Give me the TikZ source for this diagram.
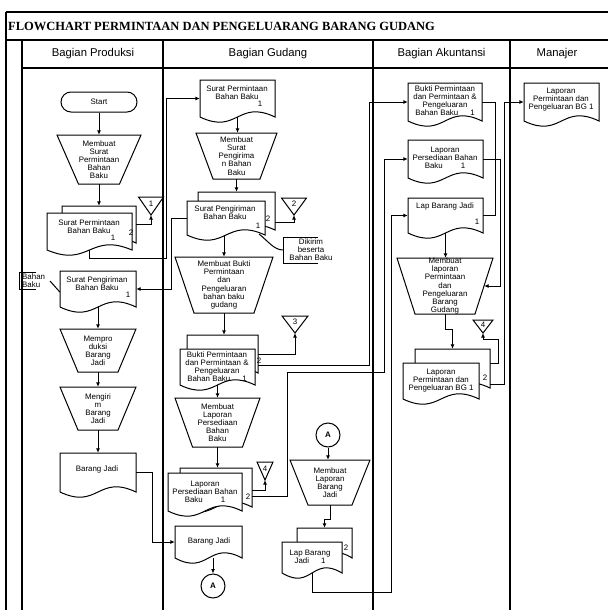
\documentclass[tikz,border=0pt]{standalone}
\usepackage{fontspec}
\setmainfont{Liberation Sans}
\newfontfamily\titlefont{Liberation Serif}
\usetikzlibrary{arrows.meta,fit,calc}

\tikzset{
 shp/.style={draw=black, fill=white, line width=1pt},
 txt/.style={font=\fontsize{7.9}{8.1}\selectfont, align=center, inner sep=0pt},
 box/.style={inner sep=0pt, draw=none},
 arr/.style={line width=1pt, -{Latex[length=4.5pt,width=4pt]}},
 ln/.style={line width=1pt},
 frm/.style={line width=1.3pt},
 hdr/.style={font=\fontsize{11.3}{12}\selectfont, inner sep=0pt},
 conn/.style={circle, draw, fill=white, line width=1pt, minimum size=24pt, inner sep=0pt, font=\fontsize{8}{9}\selectfont\bfseries},
}

% document symbol: name, x0, y0, x1, y1 (y1 = level of wave ends)
\newcommand\docshape[5]{%
  \draw[shp] (#2,#3) -- (#4,#3) -- (#4,#5) .. controls ({(#2+#4)/2},{#5-18}) and ({(#2+#4)/2},{#5+18}) .. (#2,#5) -- cycle;
  \coordinate (#1-nw) at (#2,#3);
  \coordinate (#1-se) at (#4,#5);
  \node[box, fit=(#1-nw)(#1-se)] (#1) {};}

% manual operation: name, cx, ytop, ybot, halftop, halfbot, text
\newcommand\manop[7]{%
  \draw[shp] ({#2-#5},#3) -- ({#2+#5},#3) -- ({#2+#6},#4) -- ({#2-#6},#4) -- cycle;
  \coordinate (#1-nw) at ({#2-#5},#3);
  \coordinate (#1-se) at ({#2+#5},#4);
  \node[box, fit=(#1-nw)(#1-se)] (#1) {};
  \node[txt] (#1-t) at (#1.center) {#7};}

% offline file: name, cx, ytop, w, h, number
\newcommand\offline[6]{%
  \draw[shp] ({#2-#4/2},#3) -- ({#2+#4/2},#3) -- (#2,{#3+#5}) -- cycle;
  \coordinate (#1-apex) at (#2,{#3+#5});
  \node[txt] (#1) at (#2,{#3+#5*0.36}) {#6};}

\begin{document}
\begin{tikzpicture}[x=1pt,y=-1pt]
\useasboundingbox (0,0) rectangle (608,610);

% ---------- frame ----------
\draw[frm] (6,12) -- (608,12);
\draw[frm] (6,40) -- (608,40);
\draw[frm] (22,68) -- (608,68);
\draw[frm] (6,12) -- (6,610);
\foreach \x in {22,163,373,510} \draw[frm] (\x,40) -- (\x,610);

\node[anchor=west, inner sep=0pt] (title) at (8,26)
  {\titlefont\bfseries\fontsize{12.5}{14}\selectfont FLOWCHART PERMINTAAN DAN PENGELUARANG BARANG GUDANG};
\node[hdr] (h1) at (93,54) {Bagian Produksi};
\node[hdr] (h2) at (268,54) {Bagian Gudang};
\node[hdr] (h3) at (441.5,54) {Bagian Akuntansi};
\node[hdr] (h4) at (557,54) {Manajer};

% ---------- Bagian Produksi ----------
\node[shp, rounded corners=10pt, minimum width=76pt, minimum height=20pt, txt] (start) at (99,102) {Start};
\manop{m1}{99}{135}{184}{42}{20.5}{Membuat\\Surat\\Permintaan\\Bahan\\Baku}
\docshape{spbB}{62}{206}{136}{243}
\docshape{spb}{47}{213}{132}{250}
\node[txt] (spbt) at (89,227) {Surat Permintaan\\Bahan Baku};
\node[txt] (spbn1) at (113,238) {1};
\node[txt] (spbn2) at (131,233) {2};
\offline{t1}{151}{197}{25}{18}{1}

\docshape{spp}{60}{271}{136}{307}
\node[txt] (sppt) at (97,284) {Surat Pengiriman\\Bahan Baku};
\node[txt] (sppn1) at (128,295) {1};
\draw[ln] (36,272) -- (19,272) -- (19,289) -- (36,289);
\node[txt, align=left, anchor=west] (bbt) at (22,280.5) {Bahan\\Baku};
\coordinate (bbl) at (50,281);

\manop{m2}{98}{329}{372}{38}{20}{Mempro\\duksi\\Barang\\Jadi}
\manop{m3}{98}{387}{430}{38}{20}{Mengiri\\m\\Barang\\Jadi}
\docshape{bj}{60}{453}{136}{492}
\node[txt] (bjt) at (97,469) {Barang Jadi};

% ---------- Bagian Gudang ----------
\docshape{spr}{200}{80}{275}{117}
\node[txt] (sprt) at (237,92.5) {Surat Permintaan\\Bahan Baku};
\node[txt] (sprn1) at (260,104) {1};
\manop{m4}{236.5}{133}{179}{40.5}{23.5}{Membuat\\Surat\\Pengirima\\n Bahan\\Baku}
\docshape{spgB}{198}{192}{275}{230}
\docshape{spg}{187}{201}{265}{235}
\node[txt] (spgt) at (225,213) {Surat Pengiriman\\Bahan Baku};
\node[txt] (spgn1) at (258,226) {1};
\node[txt] (spgn2) at (268,219) {2};
\offline{t2}{294}{198}{25}{17}{2}
\draw[ln] (318,237) -- (283,237) -- (283,263) -- (318,263);
\node[txt] (dik) at (311,250) {Dikirim\\beserta\\Bahan Baku};
\coordinate (dk1) at (259,234);
\coordinate (dkw) at (283,250);

\manop{m5}{224}{257}{313}{49}{30}{Membuat Bukti\\Permintaan\\dan\\Pengeluaran\\bahan baku\\gudang}
\docshape{bkB}{187}{335}{258}{373}
\docshape{bk}{180}{349}{255}{385}
\node[txt] (bkt) at (217,367) {Bukti Permintaan\\dan Permintaan \&\\Pengeluaran\\Bahan Baku\hspace{12pt}1};
\node[txt] (bkn2) at (259,361) {2};
\offline{t3}{295}{316}{26}{17}{3}

\manop{m6}{217.5}{398}{447}{42.5}{25}{Membuat\\Laporan\\Persediaan\\Bahan\\Baku}
\docshape{lpB}{180}{468}{252}{507}
\docshape{lp}{168}{473}{242}{511}
\node[txt] (lpt) at (205,491.5) {Laporan\\Persediaan Bahan\\Baku\hspace{18pt}1};
\node[txt] (lpn2) at (248,497) {2};
\offline{t4}{265}{462}{16}{18}{4}

\docshape{bj2}{175}{526}{242}{558}
\node[txt] (bj2t) at (209,541) {Barang Jadi};
\node[conn] (cA1) at (213,586) {A};

\node[conn] (cA2) at (328,435) {A};
\manop{m7}{330}{460}{505}{40}{22}{Membuat\\Laporan\\Barang\\Jadi}
\docshape{lbjB}{297}{528}{352}{558}
\docshape{lbj}{282}{542}{342}{573}
\node[txt] (lbjt) at (310,556.5) {Lap Barang\\Jadi\hspace{12pt}1};
\node[txt] (lbjn2) at (346,548) {2};

% ---------- Bagian Akuntansi ----------
\docshape{akbk}{408}{83}{482}{121}
\node[txt] (akbkt) at (445,101) {Bukti Permintaan\\dan Permintaan \&\\Pengeluaran\\Bahan Baku\hspace{12pt}1};
\docshape{aklp}{408}{140}{483}{178}
\node[txt] (aklpt) at (445,157.5) {Laporan\\Persediaan Bahan\\Baku\hspace{18pt}1};
\docshape{aklbj}{408}{198}{483}{233}
\node[txt] (aklbjt) at (445,206.5) {Lap Barang Jadi};
\node[txt] (aklbjn1) at (477,222) {1};
\manop{m8}{445}{258}{314}{48}{30}{Membuat\\laporan\\Permintaan\\dan\\Pengeluaran\\Barang\\Gudang}
\docshape{lpbgB}{415}{349}{490}{388}
\docshape{lpbg}{403}{363}{479}{399}
\node[txt] (lpbgt) at (441,380.5) {Laporan\\Permintaan dan\\Pengeluaran BG 1};
\node[txt] (lpbgn2) at (485,378) {2};
\offline{t5}{483}{320}{20}{13}{4}

% ---------- Manajer ----------
\docshape{mgr}{524}{83}{599}{121}
\node[txt] (mgrt) at (561,100) {Laporan\\Permintaan dan\\Pengeluaran BG 1};

% ---------- connectors ----------
\draw[arr] (start.south) -- (start.south |- m1.north);
\draw[arr] (m1.south) -- (m1.south |- spbB.north);
\draw[arr] (spbB.east) -| (t1-apex);
\draw[arr] (spb.south) -- ++(0,8) -| ($(spr.west)+(-33,0)$) -- (spr.west);
\draw[arr] (spg.west) -- ++(-15,0) |- (spp.east);
\draw[ln] (bbl) -- ($(spp.west)+(0,3)$);
\draw[arr] (spp.south) -- (spp.south |- m2.north);
\draw[arr] (m2.south) -- (m2.south |- m3.north);
\draw[arr] (m3.south) -- (m3.south |- bj.north);
\draw[arr] (bj.east) -- ++(16,0) |- (bj2.west);

\draw[arr] (spr.south) -- (spr.south |- m4.north);
\draw[arr] (m4.south) -- (m4.south |- spgB.north);
\draw[arr] ([yshift=-11pt]spgB.east) -| (t2-apex);
\draw[arr] (m5.north |- spg.south) -- (m5.north);
\draw[ln] (dk1) .. controls (268,241) and (274,250) .. (dkw);
\draw[arr] (m5.south) -- (m5.south |- bkB.north);
\draw[arr] (bkB.east) -| (t3-apex);
\draw[arr] ([yshift=-11pt]bkB.east) -| ($(akbk.west)+(-38,0)$) -- (akbk.west);
\draw[arr] (bk.south) -- (bk.south |- m6.north);
\draw[arr] (m6.south) -- (m6.south |- lpB.north);
\draw[arr] ([yshift=-3pt]lpB.east) -| (t4-apex);
\coordinate (w1) at (287,372);
\draw[arr] ([yshift=-9pt]lpB.east) -| (w1) -| ($(aklp.west)+(-23,0)$) -- (aklp.west);
\draw[arr] (cA1.north |- bj2.south) -- (cA1.north);
\draw[arr] (cA2.south) -- (cA2.south |- m7.north);
\draw[arr] (m7.south) -- ++(0,14) -| (lbjB.north);
\draw[arr] (lbj.south) -- ++(0,19) -| ($(aklbj.west)+(-16,0)$) -- (aklbj.west);

\draw[ln] (akbk.east) -- ++(13,0) |- (aklbj.east);
\draw[arr] (aklp.east) -- ++(17,0) |- ($(m8.east)+(-9,0)$);
\draw[arr] (aklbj.south) -- (aklbj.south |- m8.north);
\draw[arr] (m8.south) -- ++(0,15) -| (lpbgB.north);
\draw[arr] ([yshift=5pt]lpbgB.east) -| ($(t5-apex)+(15,6)$) -| (t5-apex);
\draw[arr] ([yshift=-16pt]lpbgB.east) -| ($(mgr.west)+(-19,0)$) -- (mgr.west);
\end{tikzpicture}
\end{document}
